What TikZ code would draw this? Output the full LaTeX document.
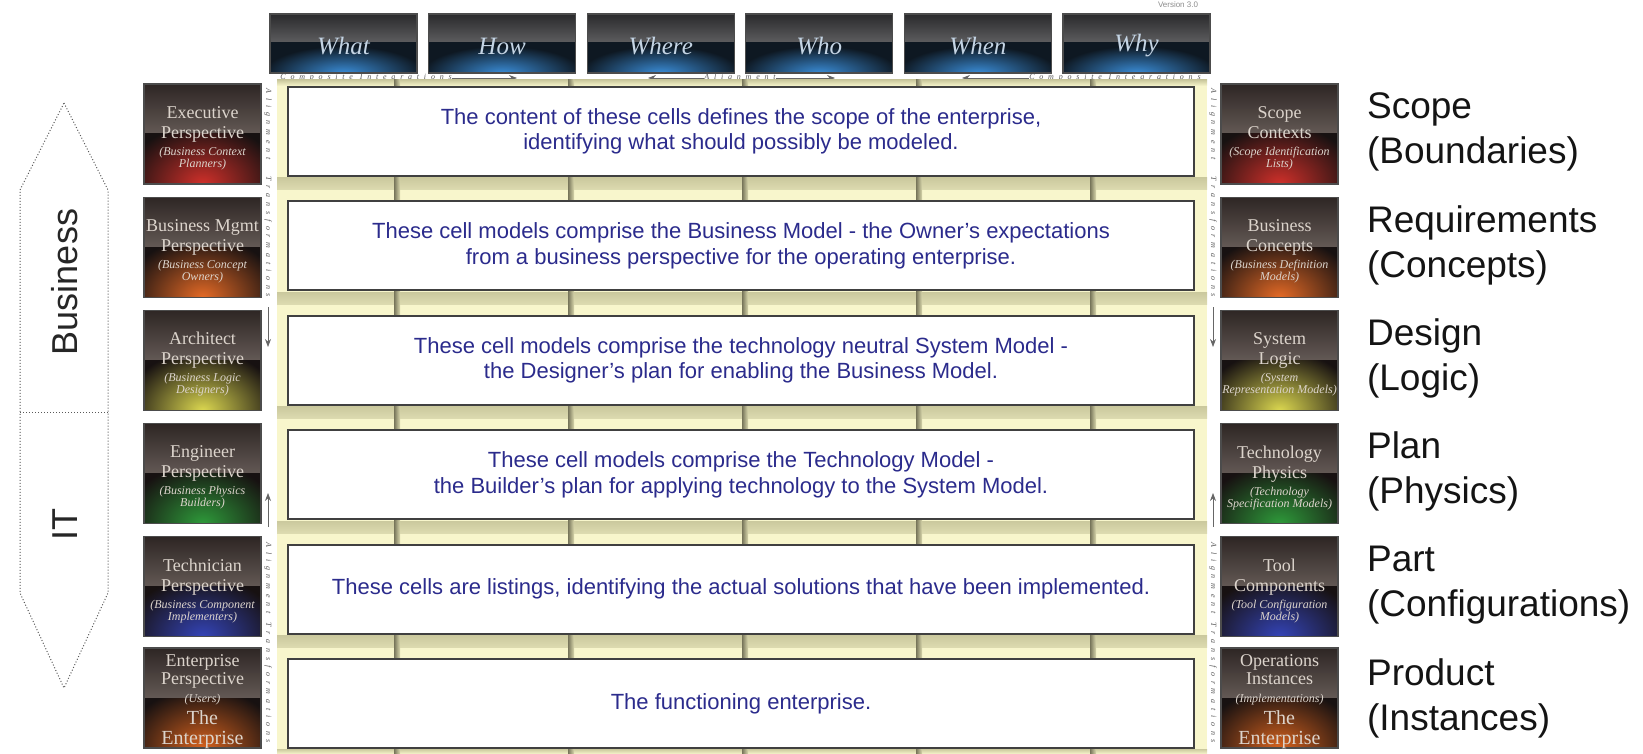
\documentclass[tikz,border=0pt]{standalone}
\usepackage{fontspec}
\setmainfont{Liberation Sans}
\newfontfamily\boxfont{Liberation Serif}
\newfontfamily\spacedfont[LetterSpace=60]{Liberation Serif}
\usetikzlibrary{arrows.meta}

\definecolor{cellblue}{HTML}{2B2B8C}
\definecolor{gridyellow}{HTML}{F8F6CC}
\definecolor{gridolive}{HTML}{CBC99E}
\definecolor{notchdark}{HTML}{77755A}
\definecolor{capgray}{HTML}{625854}
\definecolor{capdark}{HTML}{2E2624}
\definecolor{perspdark}{HTML}{171111}
\definecolor{headgray}{HTML}{5C5C5E}
\definecolor{headdark}{HTML}{2A2A2C}
\definecolor{headnavy}{HTML}{0E1822}
\definecolor{headink}{HTML}{C4D4E4}
\definecolor{perspink}{HTML}{DCD4CC}
\definecolor{glowred}{HTML}{D0302A}
\definecolor{gloworange}{HTML}{E46A26}
\definecolor{glowyellow}{HTML}{DCD850}
\definecolor{glowgreen}{HTML}{2E9A3A}
\definecolor{glowblue}{HTML}{3444B8}
\definecolor{glowrust}{HTML}{D6621E}
\definecolor{glowsky}{HTML}{3A8CD6}

\tikzset{
  sidearrow/.style={densely dotted, gray!70!black, line width=0.5pt},
  sidelabel/.style={rotate=90, font=\fontsize{18}{18}\selectfont, text=black!85},
  boxedge/.style={draw=black!70, line width=0.6pt},
  headtext/.style={font=\fontsize{12.5}{12.5}\boxfont\itshape, text=headink},
  persptext/.style={font=\fontsize{9}{10}\boxfont, text=perspink, align=center, inner sep=0pt},
  cellbox/.style={draw=black!75, line width=1pt, fill=white, minimum width=453pt,
    minimum height=44.5pt, align=center, text=cellblue, font=\fontsize{11}{12.8}\selectfont},
  rowlabel/.style={anchor=west, align=left, font=\fontsize{18.5}{22.5}\selectfont, text=black!92},
  striptext/.style={font=\fontsize{4}{4}\spacedfont\itshape, text=black!65, inner sep=0pt},
  striparrow/.style={black!60, line width=0.35pt, -{Stealth[length=4pt, width=3pt]}}
}

\newcommand{\psub}[1]{{\fontsize{6}{6}\selectfont\itshape #1}}
\newcommand{\pbig}[1]{{\fontsize{10}{10}\selectfont #1}}

% name, left x, top y, glow colour, text
\newcommand{\perspbox}[5]{%
  \begin{scope}
    \clip (#2,#3) rectangle ++(117,100);
    \fill[perspdark] (#2,#3) rectangle ++(117,100);
    \shade[inner color=#4, outer color=perspdark] (#2-20,#3+40) rectangle ++(157,120);
    \shade[top color=capdark, bottom color=capgray] (#2,#3) rectangle ++(117,49);
  \end{scope}
  \draw[boxedge] (#2,#3) rectangle ++(117,100);
  \node[persptext] (#1) at (#2+58.5,#3+54) {#5};
}

\begin{document}
\begin{tikzpicture}[x=0.5pt, y=-0.5pt]
\useasboundingbox (0,0) rectangle (1643,754);

% Business / IT arrow
    \draw[sidearrow] (64,103) -- (108,190) -- (108,593) -- (64,688) -- (20,593) -- (20,190) -- cycle;
    \draw[sidearrow] (20,412) -- (108,412);
    \node[sidelabel] (business) at (65,282) {Business};
    \node[sidelabel] (it) at (65,525) {IT};

% Column heads
    \foreach \q [count=\i from 0] in {What,How,Where,Who,When,Why} {
        \pgfmathsetmacro\hx{270+158.6*\i}
        \begin{scope}
            \clip (\hx,14) rectangle ++(147,59);
            \fill[headnavy] (\hx,14) rectangle ++(147,59);
            \shade[inner color=glowsky, outer color=headnavy] (\hx-6,46) rectangle ++(159,54);
            \shade[top color=headdark, bottom color=headgray] (\hx,14) rectangle ++(147,28);
        \end{scope}
        \draw[boxedge] (\hx,14) rectangle ++(147,59);
        \node[headtext] (\q) at (\hx+73.5,46) {\q};
    }
    \node[striptext, text=black!45, font=\fontsize{4}{4}\selectfont] (version) at (1178,5) {Version 3.0};

% Arrows under the heads
    \node[striptext, anchor=west] (compL) at (280,78) {Composite Integrations};
    \coordinate (compLend) at (517,78);
    \draw[striparrow] (compL.east) -- (compLend);
    \node[striptext] (align) at (740,78) {Alignment};
    \coordinate (alignL) at (648,78);
    \coordinate (alignR) at (835,78);
    \draw[striparrow] (align.west) -- (alignL);
    \draw[striparrow] (align.east) -- (alignR);
    \node[striptext, anchor=east] (compR) at (1201,78) {Composite Integrations};
    \coordinate (compRend) at (962,78);
    \draw[striparrow] (compR.west) -- (compRend);

% Yellow grid behind the rows
    \fill[gridyellow] (277,80) rectangle (1207,754);
    \shade[top color=gridolive, bottom color=gridyellow] (277,80) rectangle (1207,86);
    \shade[top color=gridolive, bottom color=gridyellow] (277,749) rectangle (1207,754);
    \foreach \b in {176,290.4,404.8,519.2,633.6} {
        \shade[top color=gridolive, bottom color=gridolive!60!gridyellow] (277,\b+2) rectangle (1207,\b+14);
        \foreach \n in {397,571,745,919,1093}
            \shade[left color=notchdark, right color=gridolive!70!gridyellow] (\n-3,\b) rectangle (\n+3,\b+25);
    }
    \foreach \n in {397,571,745,919,1093} {
        \shade[left color=notchdark, right color=gridolive!70!gridyellow] (\n-3,80) rectangle (\n+3,87);
        \shade[left color=notchdark, right color=gridolive!70!gridyellow] (\n-3,748) rectangle (\n+3,754);
    }

% Cells
    \node[cellbox] (cell1) at (741,131.5) {The content of these cells defines the scope of the enterprise,\\identifying what should possibly be modeled.};
    \node[cellbox] (cell2) at (741,245.9) {These cell models comprise the Business Model - the Owner's expectations\\from a business perspective for the operating enterprise.};
    \node[cellbox] (cell3) at (741,360.3) {These cell models comprise the technology neutral System Model -\\the Designer's plan for enabling the Business Model.};
    \node[cellbox] (cell4) at (741,474.7) {These cell models comprise the Technology Model -\\the Builder's plan for applying technology to the System Model.};
    \node[cellbox] (cell5) at (741,589.1) {These cells are listings, identifying the actual solutions that have been implemented.};
    \node[cellbox] (cell6) at (741,703.5) {The functioning enterprise.};

% Side strips
    \node[striptext, rotate=-90] (alignA) at (268,124) {Alignment};
    \node[striptext, rotate=-90] (transA) at (268,237) {Transformations};
    \node[striptext, rotate=-90] (alignB) at (268,578) {Alignment};
    \node[striptext, rotate=-90] (transB) at (268,683) {Transformations};
    \node[striptext, rotate=-90] (alignC) at (1213,124) {Alignment};
    \node[striptext, rotate=-90] (transC) at (1213,237) {Transformations};
    \node[striptext, rotate=-90] (alignD) at (1213,578) {Alignment};
    \node[striptext, rotate=-90] (transD) at (1213,683) {Transformations};
    \coordinate (dnL) at (268,307);
    \coordinate (dnLend) at (268,347);
    \coordinate (upL) at (268,527);
    \coordinate (upLend) at (268,493);
    \coordinate (dnR) at (1213,307);
    \coordinate (dnRend) at (1213,347);
    \coordinate (upR) at (1213,527);
    \coordinate (upRend) at (1213,493);
    \draw[striparrow] (dnL) -- (dnLend);
    \draw[striparrow] (upL) -- (upLend);
    \draw[striparrow] (dnR) -- (dnRend);
    \draw[striparrow] (upR) -- (upRend);

% Perspectives
    \perspbox{executive}{144}{84}{glowred}{Executive\\Perspective\\[-1.5pt]\psub{(Business Context}\\[-4pt]\psub{Planners)}}
    \perspbox{bizmgmt}{144}{197.2}{gloworange}{Business Mgmt\\Perspective\\[-1.5pt]\psub{(Business Concept}\\[-4pt]\psub{Owners)}}
    \perspbox{architect}{144}{310.4}{glowyellow}{Architect\\Perspective\\[-1.5pt]\psub{(Business Logic}\\[-4pt]\psub{Designers)}}
    \perspbox{engineer}{144}{423.6}{glowgreen}{Engineer\\Perspective\\[-1.5pt]\psub{(Business Physics}\\[-4pt]\psub{Builders)}}
    \perspbox{technician}{144}{536.8}{glowblue}{Technician\\Perspective\\[-1.5pt]\psub{(Business Component}\\[-4pt]\psub{Implementers)}}
    \perspbox{enterprise}{144}{648}{glowrust}{Enterprise\\[-1pt]Perspective\\[-1pt]\psub{(Users)}\\[1pt]\pbig{The}\\\pbig{Enterprise}}

% Models
    \perspbox{scope}{1221}{84}{glowred}{Scope\\Contexts\\[-1.5pt]\psub{(Scope Identification}\\[-4pt]\psub{Lists)}}
    \perspbox{concepts}{1221}{197.2}{gloworange}{Business\\Concepts\\[-1.5pt]\psub{(Business Definition}\\[-4pt]\psub{Models)}}
    \perspbox{logic}{1221}{310.4}{glowyellow}{System\\Logic\\[-1.5pt]\psub{(System}\\[-4pt]\psub{Representation Models)}}
    \perspbox{physics}{1221}{423.6}{glowgreen}{Technology\\Physics\\[-1.5pt]\psub{(Technology}\\[-4pt]\psub{Specification Models)}}
    \perspbox{components}{1221}{536.8}{glowblue}{Tool\\Components\\[-1.5pt]\psub{(Tool Configuration}\\[-4pt]\psub{Models)}}
    \perspbox{instances}{1221}{648}{glowrust}{Operations\\[-1pt]Instances\\[-1pt]\psub{(Implementations)}\\[1pt]\pbig{The}\\\pbig{Enterprise}}

% Row names
    \node[rowlabel] (lab1) at (1360,132) {Scope\\(Boundaries)};
    \node[rowlabel] (lab2) at (1360,245.2) {Requirements\\(Concepts)};
    \node[rowlabel] (lab3) at (1360,358.4) {Design\\(Logic)};
    \node[rowlabel] (lab4) at (1360,471.6) {Plan\\(Physics)};
    \node[rowlabel] (lab5) at (1360,584.8) {Part\\(Configurations)};
    \node[rowlabel] (lab6) at (1360,698) {Product\\(Instances)};
\end{tikzpicture}
\end{document}
